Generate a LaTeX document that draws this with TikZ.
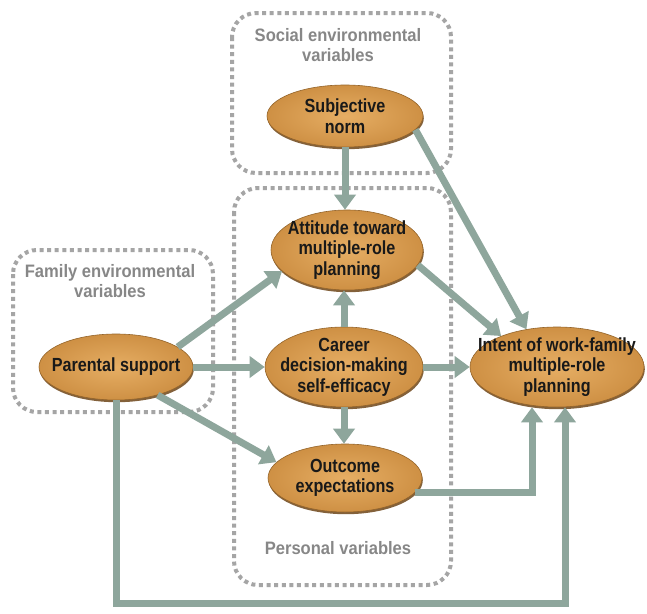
\documentclass[tikz,border=0pt]{standalone}
\usepackage{fontspec}
\setmainfont{Liberation Sans}
\newfontfamily\narrowsans{Liberation Sans}[FakeStretch=0.85]
\newfontfamily\groupsans{Liberation Sans}[FakeStretch=0.92]
\usetikzlibrary{arrows.meta,shapes.geometric,shadows}
\definecolor{arrowc}{RGB}{142,166,156}
\definecolor{dotc}{RGB}{165,165,165}
\definecolor{grouptext}{RGB}{135,135,135}
\definecolor{ovalin}{RGB}{230,174,100}
\definecolor{ovalout}{RGB}{206,144,68}
\definecolor{ovalrim}{RGB}{110,70,25}
\begin{document}
\begin{tikzpicture}[x=1pt,y=-1pt,
  grp/.style={draw=dotc, line width=4pt, dash pattern=on 4pt off 3.6pt, rounded corners=24pt},
  grplabel/.style={text=grouptext, font=\groupsans\fontsize{18}{20}\selectfont\bfseries, align=center},
  oval/.style={ellipse, inner color=ovalin, outer color=ovalout, draw=ovalrim!60!ovalout, line width=0.6pt,
    inner sep=0pt, drop shadow={shadow xshift=0.8pt, shadow yshift=-2.2pt, opacity=0.85, fill=ovalrim}},
  ovaltext/.style={font=\narrowsans\fontsize{19}{20.5}\selectfont\bfseries, text=black!90, align=center},
  arr/.style={draw=arrowc, line width=7pt, -{Triangle[width=21pt,length=15pt]}}
]
% canvas
\path[fill=white] (0,0) rectangle (647,613);
\useasboundingbox (0,0) rectangle (647,613);

% variable groups
\draw[grp] (232,13) rectangle (451,173);
\draw[grp] (234,188) rectangle (451,585);
\draw[grp] (13,250) rectangle (213,412);
\node[grplabel] (lsoc) at (338,45) {Social environmental\\variables};
\node[grplabel] (lfam) at (110,281) {Family environmental\\variables};
\node[grplabel] (lper) at (338,548) {Personal variables};

% construct ovals
\node[oval, minimum width=156pt, minimum height=62pt] (subj) at (345,116) {};
\node[oval, minimum width=152pt, minimum height=80pt] (att) at (347,250) {};
\node[oval, minimum width=158pt, minimum height=80pt] (car) at (344,367) {};
\node[oval, minimum width=154pt, minimum height=68pt] (out) at (345,478) {};
\node[oval, minimum width=154pt, minimum height=66pt] (par) at (116,367) {};
\node[oval, minimum width=174pt, minimum height=80pt] (int) at (557,367) {};

% paths between constructs
\draw[arr] (subj.south) -- (subj.south |- att.north);
\draw[arr] (subj.-11) -- (int.129);
\draw[arr] (att.-12) -- (int.151);
\draw[arr] (car.north) -- (car.north |- att.south);
\draw[arr] (car.south) -- (car.south |- out.north);
\draw[arr] (car.east) -- (int.west);
\draw[arr] (par.18) -- (att.198);
\draw[arr] (par.east) -- (car.west);
\draw[arr] (par.-34) -- (out.167);
\draw[arr] (out.-12) -| ([xshift=-25pt]int.south);
\draw[arr] (par.south) -- ++(0,203) -| ([xshift=8pt]int.south);

% oval labels
\node[ovaltext] (tsubj) at (subj) {Subjective\\norm};
\node[ovaltext] (tatt) at (att) {Attitude toward\\multiple-role\\planning};
\node[ovaltext] (tcar) at (car) {Career\\decision-making\\self-efficacy};
\node[ovaltext] (tout) at (out) {Outcome\\expectations};
\node[ovaltext] (tpar) at (par) {Parental support};
\node[ovaltext] (tint) at (int) {Intent of work-family\\multiple-role\\planning};
\end{tikzpicture}
\end{document}
